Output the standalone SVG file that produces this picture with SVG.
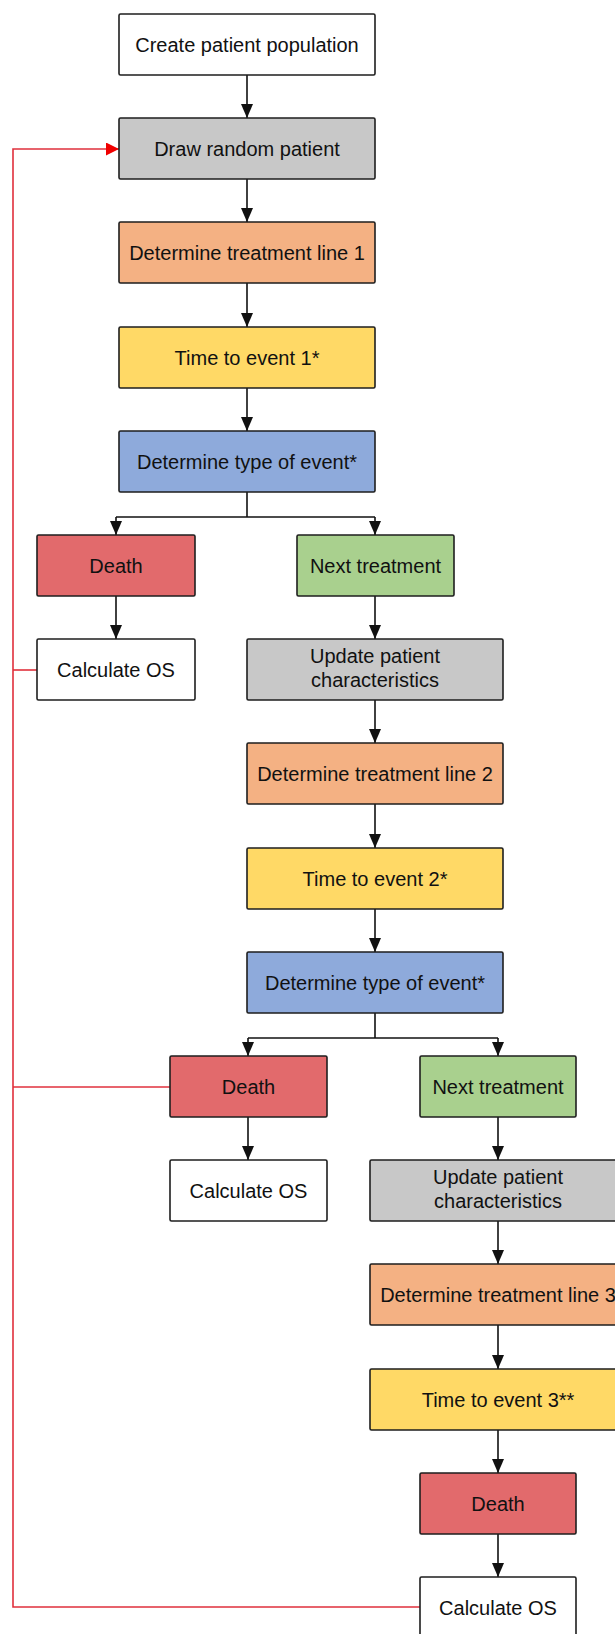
<svg xmlns="http://www.w3.org/2000/svg" width="615" height="1634" viewBox="0 0 615 1634">
<defs>
<marker id="ah" viewBox="0 0 14 12" refX="14" refY="6" markerWidth="14" markerHeight="12" markerUnits="userSpaceOnUse" orient="auto"><path d="M0,0 L14,6 L0,12 z" fill="#111"/></marker>
<marker id="ahr" viewBox="0 0 13 13" refX="13" refY="6.5" markerWidth="13" markerHeight="13" markerUnits="userSpaceOnUse" orient="auto"><path d="M0,0 L13,6.5 L0,13 z" fill="#f00000"/></marker>
</defs>
<style>
rect{stroke:#1e1e1e;stroke-width:1.6}
text{font-family:"Liberation Sans",Arial,sans-serif;font-size:20px;fill:#111;text-anchor:middle}
.w{fill:#ffffff}.g{fill:#c8c8c8}.o{fill:#f4b183}.y{fill:#ffd966}.b{fill:#8eaadb}.r{fill:#e26a6c}.gr{fill:#a9d08e}
.c{fill:none;stroke:#111;stroke-width:1.6}
.rc{fill:none;stroke:#e0303c;stroke-width:1.6}
</style>
<rect width="615" height="1634" fill="#ffffff" style="stroke:none"/>
<g id="connectors">
<line class="c" x1="247" y1="75" x2="247" y2="118" marker-end="url(#ah)"/>
<line class="c" x1="247" y1="179" x2="247" y2="222" marker-end="url(#ah)"/>
<line class="c" x1="247" y1="283" x2="247" y2="327" marker-end="url(#ah)"/>
<line class="c" x1="247" y1="388" x2="247" y2="431" marker-end="url(#ah)"/>
<polyline class="c" points="247,492 247,517"/>
<polyline class="c" points="116,517 375,517"/>
<line class="c" x1="116" y1="517" x2="116" y2="535" marker-end="url(#ah)"/>
<line class="c" x1="375" y1="517" x2="375" y2="535" marker-end="url(#ah)"/>
<line class="c" x1="116" y1="596" x2="116" y2="639" marker-end="url(#ah)"/>
<line class="c" x1="375" y1="596" x2="375" y2="639" marker-end="url(#ah)"/>
<line class="c" x1="375" y1="700" x2="375" y2="743" marker-end="url(#ah)"/>
<line class="c" x1="375" y1="804" x2="375" y2="848" marker-end="url(#ah)"/>
<line class="c" x1="375" y1="909" x2="375" y2="952" marker-end="url(#ah)"/>
<polyline class="c" points="375,1013 375,1038"/>
<polyline class="c" points="248,1038 498,1038"/>
<line class="c" x1="248" y1="1038" x2="248" y2="1056" marker-end="url(#ah)"/>
<line class="c" x1="498" y1="1038" x2="498" y2="1056" marker-end="url(#ah)"/>
<line class="c" x1="248" y1="1117" x2="248" y2="1160" marker-end="url(#ah)"/>
<line class="c" x1="498" y1="1117" x2="498" y2="1160" marker-end="url(#ah)"/>
<line class="c" x1="498" y1="1221" x2="498" y2="1264" marker-end="url(#ah)"/>
<line class="c" x1="498" y1="1325" x2="498" y2="1369" marker-end="url(#ah)"/>
<line class="c" x1="498" y1="1430" x2="498" y2="1473" marker-end="url(#ah)"/>
<line class="c" x1="498" y1="1534" x2="498" y2="1577" marker-end="url(#ah)"/>
<polyline class="rc" points="420,1607 13,1607 13,149 119,149" marker-end="url(#ahr)"/>
<line class="rc" x1="13" y1="670" x2="37" y2="670"/>
<line class="rc" x1="13" y1="1087" x2="170" y2="1087"/>
</g>
<g id="n1"><rect class="w" x="119" y="14" width="256" height="61" rx="1.5"/><text x="247" y="51.5">Create patient population</text></g>
<g id="n2"><rect class="g" x="119" y="118" width="256" height="61" rx="1.5"/><text x="247" y="155.5">Draw random patient</text></g>
<g id="n3"><rect class="o" x="119" y="222" width="256" height="61" rx="1.5"/><text x="247" y="259.5">Determine treatment line 1</text></g>
<g id="n4"><rect class="y" x="119" y="327" width="256" height="61" rx="1.5"/><text x="247" y="364.5">Time to event 1*</text></g>
<g id="n5"><rect class="b" x="119" y="431" width="256" height="61" rx="1.5"/><text x="247" y="468.5">Determine type of event*</text></g>
<g id="n6"><rect class="r" x="37" y="535" width="158" height="61" rx="1.5"/><text x="116" y="572.5">Death</text></g>
<g id="n7"><rect class="gr" x="297" y="535" width="157" height="61" rx="1.5"/><text x="375.5" y="572.5">Next treatment</text></g>
<g id="n8"><rect class="w" x="37" y="639" width="158" height="61" rx="1.5"/><text x="116" y="676.5">Calculate OS</text></g>
<g id="n9"><rect class="g" x="247" y="639" width="256" height="61" rx="1.5"/><text x="375" y="663">Update patient</text><text x="375" y="687">characteristics</text></g>
<g id="n10"><rect class="o" x="247" y="743" width="256" height="61" rx="1.5"/><text x="375" y="780.5">Determine treatment line 2</text></g>
<g id="n11"><rect class="y" x="247" y="848" width="256" height="61" rx="1.5"/><text x="375" y="885.5">Time to event 2*</text></g>
<g id="n12"><rect class="b" x="247" y="952" width="256" height="61" rx="1.5"/><text x="375" y="989.5">Determine type of event*</text></g>
<g id="n13"><rect class="r" x="170" y="1056" width="157" height="61" rx="1.5"/><text x="248.5" y="1093.5">Death</text></g>
<g id="n14"><rect class="gr" x="420" y="1056" width="156" height="61" rx="1.5"/><text x="498" y="1093.5">Next treatment</text></g>
<g id="n15"><rect class="w" x="170" y="1160" width="157" height="61" rx="1.5"/><text x="248.5" y="1197.5">Calculate OS</text></g>
<g id="n16"><rect class="g" x="370" y="1160" width="256" height="61" rx="1.5"/><text x="498" y="1184">Update patient</text><text x="498" y="1208">characteristics</text></g>
<g id="n17"><rect class="o" x="370" y="1264" width="256" height="61" rx="1.5"/><text x="498" y="1301.5">Determine treatment line 3</text></g>
<g id="n18"><rect class="y" x="370" y="1369" width="256" height="61" rx="1.5"/><text x="498" y="1406.5">Time to event 3**</text></g>
<g id="n19"><rect class="r" x="420" y="1473" width="156" height="61" rx="1.5"/><text x="498" y="1510.5">Death</text></g>
<g id="n20"><rect class="w" x="420" y="1577" width="156" height="61" rx="1.5"/><text x="498" y="1614.5">Calculate OS</text></g>
</svg>
